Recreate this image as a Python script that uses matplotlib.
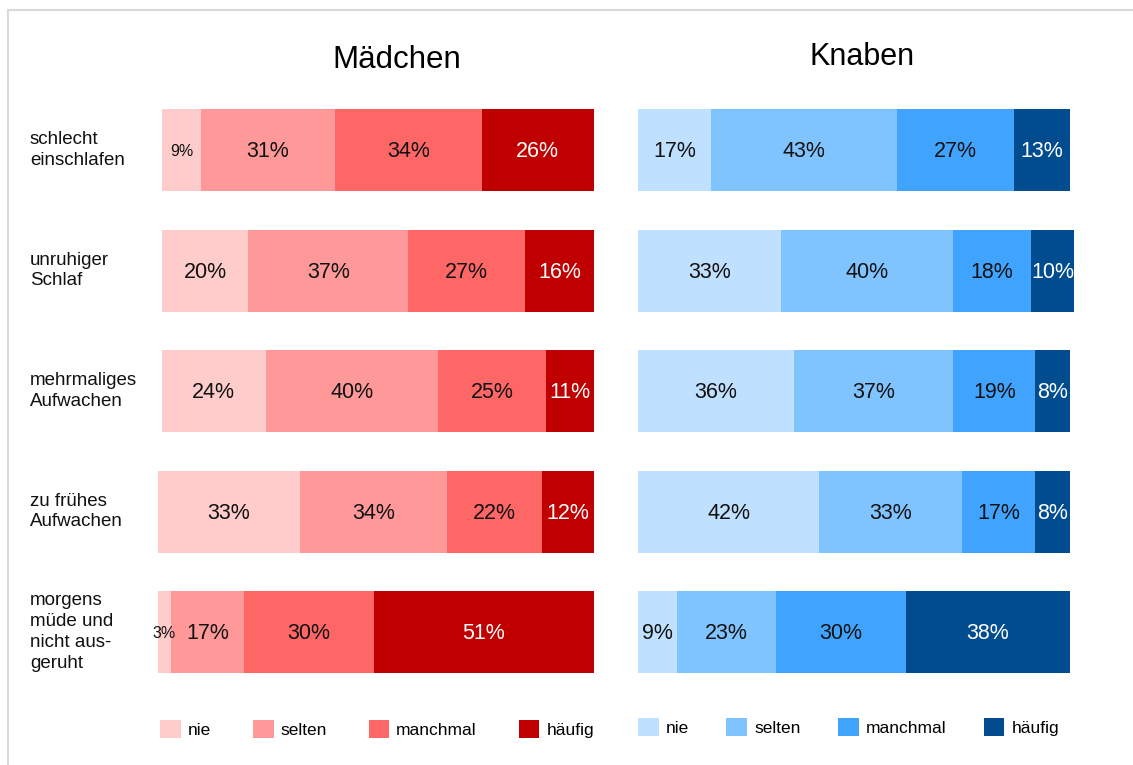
import numpy as np
import matplotlib
matplotlib.use("Agg")
import matplotlib.pyplot as plt
from matplotlib.patches import Rectangle
from matplotlib.transforms import blended_transform_factory

plt.rcParams['font.family'] = ['Liberation Sans', 'DejaVu Sans']

# --- data ---
categories = ['schlecht\neinschlafen', 'unruhiger\nSchlaf', 'mehrmaliges\nAufwachen',
              'zu frühes\nAufwachen', 'morgens\nmüde und\nnicht aus-\ngeruht']
levels = ['nie', 'selten', 'manchmal', 'häufig']

maedchen_nie = [9, 20, 24, 33, 3]
maedchen_selten = [31, 37, 40, 34, 17]
maedchen_manchmal = [34, 27, 25, 22, 30]
maedchen_haeufig = [26, 16, 11, 12, 51]

knaben_nie = [17, 33, 36, 42, 9]
knaben_selten = [43, 40, 37, 33, 23]
knaben_manchmal = [27, 18, 19, 17, 30]
knaben_haeufig = [13, 10, 8, 8, 38]

red_colors = ['#FFCCCC', '#FF9999', '#FF6666', '#C00000']
blue_colors = ['#C0E0FF', '#80C4FF', '#40A4FF', '#004C8F']

W, H = 1133, 765
fig = plt.figure(figsize=(W / 100, H / 100), dpi=100)

# light frame around the chart
fig.patches.append(Rectangle((8 / W, -0.1), 1.2, 1 - 10 / H + 0.1, transform=fig.transFigure,
                             fill=False, edgecolor='#D9D9D9', linewidth=1.5))

bottom = 1 - 692.25 / H
height = 602.5 / H
bar_h = 82 / 120.5


def draw_panel(ax, series, colors, right_align, small_below):
    data = np.array(series, dtype=float)  # shape (levels, categories)
    totals = data.sum(axis=0)
    y = np.arange(len(categories))
    start = (100 - totals) if right_align else np.zeros(len(categories))
    handles = []
    for i, vals in enumerate(data):
        b = ax.barh(y, vals, left=start, height=bar_h, color=colors[i],
                    linewidth=0, clip_on=False, label=levels[i])
        handles.append(b)
        for j, v in enumerate(vals):
            small = v < small_below
            ax.text(start[j] + v / 2, y[j] + 0.015, f"{int(v)}%", ha='center', va='center',
                    fontsize=11.5 if small else 15.5,
                    color='white' if i == 3 else '#111111')
        start = start + vals
    ax.set_xlim(0, 100)
    ax.set_ylim(len(categories) - 0.5, -0.5)
    ax.axis('off')
    return handles


ax1 = fig.add_axes([162 / W, bottom, 432 / W, height])
ax2 = fig.add_axes([638 / W, bottom, 432 / W, height])

h1 = draw_panel(ax1, [maedchen_nie, maedchen_selten, maedchen_manchmal, maedchen_haeufig],
                red_colors, True, 10)
h2 = draw_panel(ax2, [knaben_nie, knaben_selten, knaben_manchmal, knaben_haeufig],
                blue_colors, False, 0)

# category labels
trans = blended_transform_factory(fig.transFigure, ax1.transData)
for j, c in enumerate(categories):
    ax1.text(30 / W, j, c, transform=trans, ha='left', va='center',
             fontsize=13.5, linespacing=1.3, color='#111111')

# panel titles
fig.text(397 / W, 1 - 60 / H, 'Mädchen', ha='center', va='center', fontsize=22.5)
fig.text(862 / W, 1 - 57 / H, 'Knaben', ha='center', va='center', fontsize=22)

# legends
leg_kw = dict(loc='center left', ncol=4, frameon=False, borderpad=0, borderaxespad=0,
              handlelength=1.2, handleheight=1.25, handletextpad=0.4,
              prop={'size': 12.5}, bbox_transform=fig.transFigure)
ax1.legend(handles=h1, labels=levels, bbox_to_anchor=(160 / W, 1 - 729 / H),
           columnspacing=2.4, **leg_kw)
ax2.legend(handles=h2, labels=levels, bbox_to_anchor=(638 / W, 1 - 727 / H),
           columnspacing=2.15, **leg_kw)

fig.savefig('out.png', dpi=100, facecolor='white')
